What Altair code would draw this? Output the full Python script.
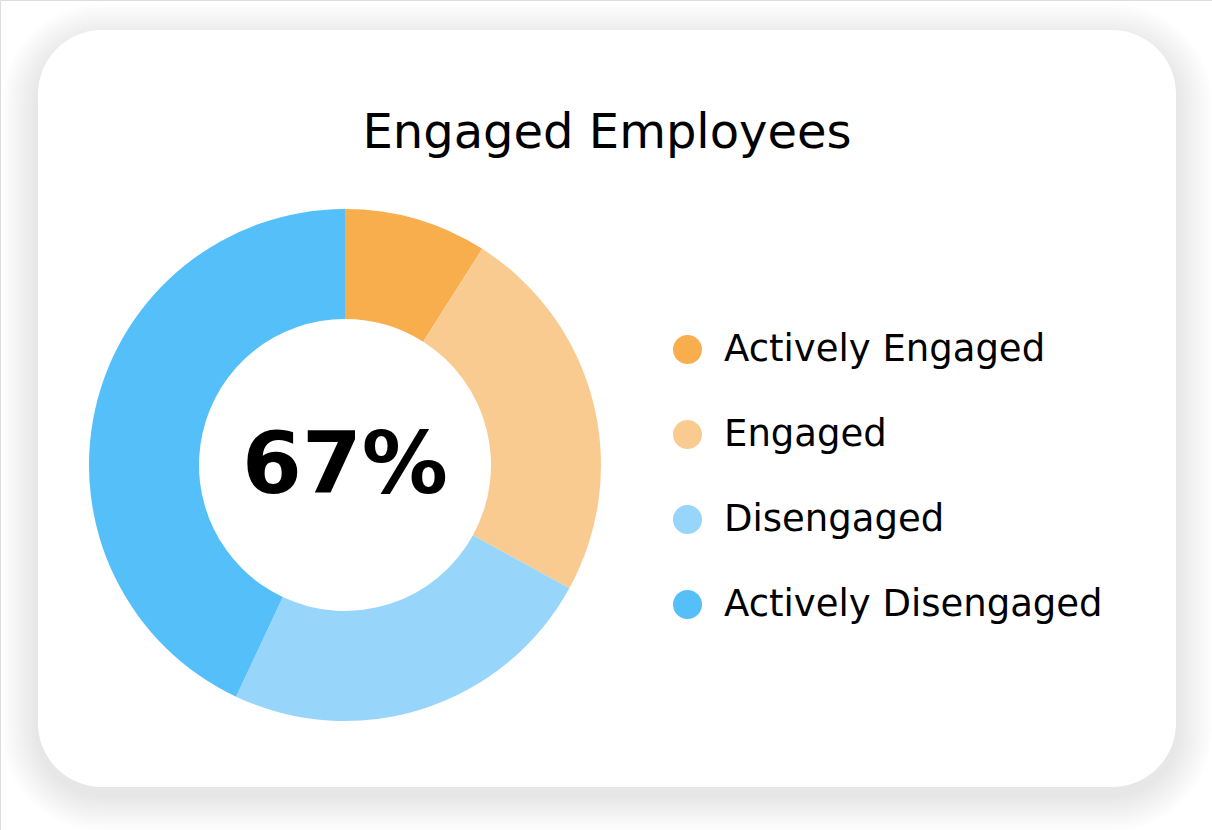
import altair as alt
import pandas as pd

# Engagement breakdown (percent of employees)
categories = ["Actively Engaged", "Engaged", "Disengaged", "Actively Disengaged"]
shares = [9, 24, 24, 43]
colors = ["#F8AE4D", "#FACB91", "#97D5FB", "#55BFFA"]
title_text = "Engaged Employees"
center_label = "67%"

# Canvas and card geometry (pixels)
W, H = 1212, 830
CARD_X0, CARD_X1, CARD_Y0, CARD_Y1, CARD_R = 38, 1176, 30, 787, 64
CX, CY = 345, 465
OUTER_R, INNER_R = 256, 146
FONT = "DejaVu Sans"

df = pd.DataFrame({
    "category": categories,
    "share": shares,
    "order": list(range(len(categories))),
})
one = pd.DataFrame({"k": [0]})

layers = []

# Soft drop shadow: stacked translucent rounded rectangles
for k in range(1, 13):
    e = 3 * k
    layers.append(
        alt.Chart(one)
        .mark_rect(color="black", opacity=0.007, cornerRadius=CARD_R + e)
        .encode(
            x=alt.value(CARD_X0 - e),
            x2=alt.value(CARD_X1 + e),
            y=alt.value(CARD_Y0 - e + 10),
            y2=alt.value(CARD_Y1 + e + 8),
        )
    )

# White card
layers.append(
    alt.Chart(one)
    .mark_rect(color="white", cornerRadius=CARD_R)
    .encode(
        x=alt.value(CARD_X0),
        x2=alt.value(CARD_X1),
        y=alt.value(CARD_Y0),
        y2=alt.value(CARD_Y1),
    )
)

# Title
layers.append(
    alt.Chart(pd.DataFrame({"t": [title_text]}))
    .mark_text(font=FONT, fontSize=48, color="black", align="center", baseline="middle")
    .encode(text="t:N", x=alt.value(607), y=alt.value(134))
)

# Donut
layers.append(
    alt.Chart(df)
    .mark_arc(outerRadius=OUTER_R, innerRadius=INNER_R)
    .encode(
        theta=alt.Theta("share:Q", stack=True),
        order=alt.Order("order:Q"),
        color=alt.Color(
            "category:N",
            sort=categories,
            scale=alt.Scale(domain=categories, range=colors),
            legend=alt.Legend(
                title=None,
                orient="none",
                legendX=669,
                legendY=331,
                symbolType="circle",
                symbolSize=841,
                symbolStrokeWidth=0,
                symbolOpacity=1,
                labelFont=FONT,
                labelFontSize=37,
                labelColor="black",
                labelOffset=18,
                labelLimit=600,
                rowPadding=47,
                padding=0,
            ),
        ),
        x=alt.value(CX),
        y=alt.value(CY),
    )
)

# Center figure
layers.append(
    alt.Chart(pd.DataFrame({"t": [center_label]}))
    .mark_text(font=FONT, fontSize=86, fontWeight="bold", color="black",
               align="center", baseline="middle")
    .encode(text="t:N", x=alt.value(CX), y=alt.value(CY + 2))
)

chart = (
    alt.layer(*layers)
    .properties(width=W, height=H, padding=0, autosize=alt.AutoSizeParams(type="none"))
    .configure_view(stroke="transparent", strokeWidth=0, fill="white")
    .configure(background="white")
)

chart.save("out.html", embed_options={"renderer": "svg", "actions": False})
